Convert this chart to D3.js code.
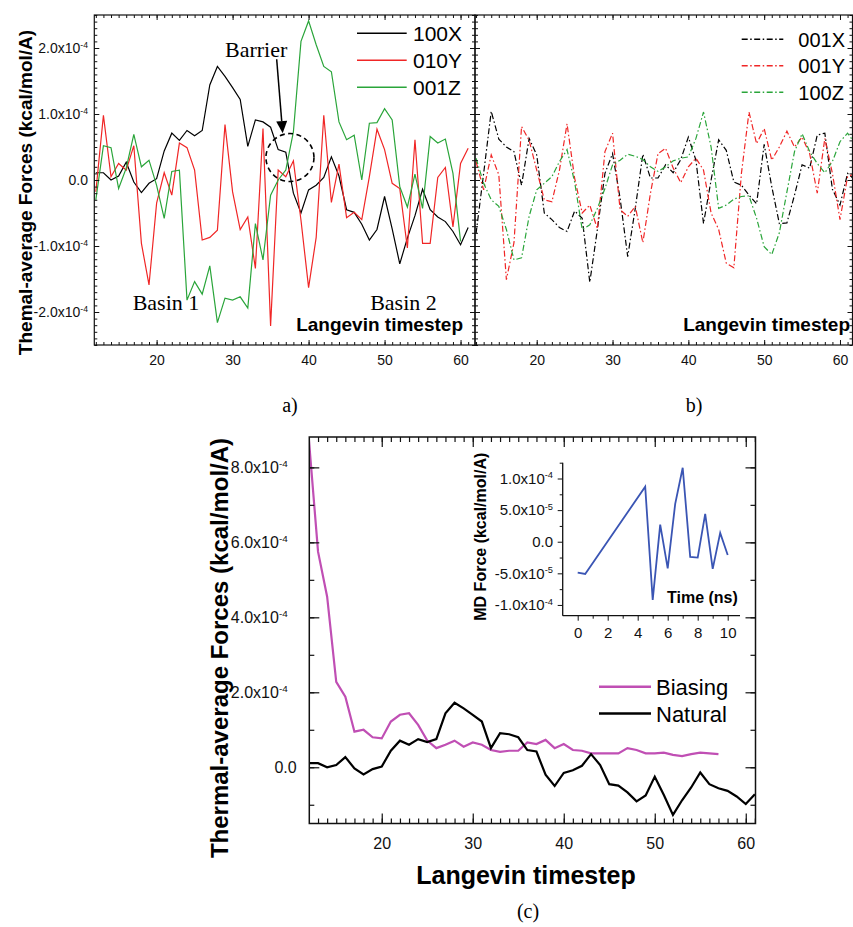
<!DOCTYPE html>
<html>
<head>
<meta charset="utf-8">
<script src="https://cdn.jsdelivr.net/npm/d3@7"></script>
<style>
  body { margin: 0; background: #fff; }
</style>
</head>
<body>
<script>
// ---- data (forces in units of 1e-4 kcal/mol/A, inset in 1e-5) ----
const stepsA = d3.range(12, 62);          // 12..61
const stepsGreenA = d3.range(12, 61);     // 12..60
const stepsB = d3.range(12, 63);          // 12..62
const stepsBias = d3.range(12, 58);       // 12..57

const force100X = [0.11, 0.11, 0.00, 0.06, 0.27, -0.03, -0.19, -0.05, 0.02, 0.44,
  0.71, 0.60, 0.75, 0.67, 0.75, 1.44, 1.72, 1.57, 1.40, 1.22,
  0.51, 0.91, 0.88, 0.80, 0.46, 0.42, -0.20, -0.50, -0.15, -0.08,
  0.04, 0.35, 0.06, -0.45, -0.49, -0.67, -0.91, -0.75, -0.25, -0.74,
  -1.27, -0.88, -0.54, -0.14, -0.45, -0.56, -0.63, -0.78, -0.98, -0.72];
const force010Y = [-0.18, 0.98, 0.05, 0.25, 0.15, 0.52, -0.96, -1.59, -0.35, 0.11,
  -0.23, 0.56, 0.49, 0.15, -0.91, -0.87, -0.76, 0.84, -0.18, -0.75,
  -0.56, -1.34, 0.78, -2.21, 0.15, 0.05, 0.29, -0.61, -1.63, -0.87,
  0.98, -0.34, 0.24, -0.57, -0.49, -0.60, 0.05, 0.77, 0.46, -0.05,
  -0.13, -1.03, 0.61, -0.96, -0.96, 0.04, 0.19, -0.71, 0.25, 0.48];
const force001Z = [-0.30, 0.52, 0.49, -0.13, 0.18, 0.69, 0.20, 0.30, -0.08, -0.58,
  0.13, 0.15, -1.82, -1.54, -1.73, -1.30, -2.16, -1.79, -1.82, -1.77,
  -1.94, -0.66, -1.21, -0.23, 0.00, 0.15, 0.73, 2.10, 2.41, 2.05,
  1.72, 1.64, 0.88, 0.61, 0.68, 0.00, 0.86, 0.87, 1.08, 0.91,
  -0.10, -0.41, 0.09, -0.43, 0.66, 0.56, 0.62, 0.10, -0.93];

const force001X = [-0.81, 0.10, 1.04, 0.62, 0.50, 0.43, -0.08, 0.63, 0.38, -0.50,
  -0.60, -0.72, -0.78, -0.47, -0.58, -1.55, -0.75, 0.10, 0.40, -0.28,
  -1.16, -0.43, 0.39, 0.03, 0.03, 0.23, 0.11, 0.31, 0.65, 0.30,
  -0.66, 0.00, 0.61, 0.45, -0.03, -0.08, -0.23, -0.36, 0.54, -0.10,
  -0.66, -0.65, -0.23, 0.23, 0.18, 0.68, 0.71, -0.14, -0.38, 0.10, 0.00];
const force001Y = [0.28, -0.15, 0.38, 0.08, -1.51, -0.95, 0.81, 0.60, 0.15, -0.30,
  -0.33, 0.15, 0.85, 0.03, -0.50, -0.38, -0.74, 0.43, 0.71, -0.45,
  -0.55, -0.40, -0.95, -0.20, 0.40, 0.48, 0.18, -0.04, 0.20, 0.33,
  0.15, -0.50, -0.75, -1.26, -1.33, 0.10, 1.03, 0.55, 0.78, 0.30,
  0.50, 0.74, 0.50, 0.65, 0.40, -0.20, 0.63, 0.10, -0.60, 0.05, 0.10];
const force100Z = [0.33, -0.05, -0.30, -0.40, -0.75, -1.21, -1.18, -0.55, -0.15, -0.05,
  0.05, 0.28, 0.46, -0.03, -0.75, -0.68, -0.43, -0.13, 0.23, 0.30,
  0.39, 0.36, 0.31, 0.20, 0.13, 0.20, 0.29, 0.33, 0.35, 0.63,
  1.03, 0.50, -0.43, -0.38, -0.29, -0.25, -0.24, -0.58, -1.01, -1.13,
  -0.80, -0.18, 0.43, 0.70, 0.43, 0.25, 0.11, 0.28, 0.58, 0.71, 0.55];

const biasing = [8.73, 5.75, 4.55, 2.28, 1.88, 0.95, 1.00, 0.80, 0.77, 1.22,
  1.40, 1.44, 1.13, 0.71, 0.51, 0.60, 0.71, 0.55, 0.66, 0.60,
  0.46, 0.41, 0.44, 0.44, 0.66, 0.62, 0.73, 0.51, 0.62, 0.46,
  0.44, 0.37, 0.37, 0.37, 0.37, 0.51, 0.46, 0.37, 0.37, 0.39,
  0.33, 0.30, 0.35, 0.39, 0.37, 0.35];
const natural = force100X; // same trajectory as 100X in panel a

const mdTime = [0, 0.5, 4.5, 5, 5.5, 6, 6.5, 7, 7.5, 8, 8.5, 9, 9.5, 10];
const mdForce = [-4.9, -5.1, 8.7, -9.2, 2.7, -4.2, 6.0, 11.7, -2.4, -2.5, 4.4, -4.3, 1.4, -2.1];

const legendA = ['100X', '010Y', '001Z'];
const legendB = ['001X', '001Y', '100Z'];
const legendC = ['Biasing', 'Natural'];
const xMajorAB = [20, 30, 40, 50, 60];
const yMajorAB = [-2, -1, 0, 1, 2];
const yMajorC = [0, 2, 4, 6, 8];
const xMajorInset = [0, 2, 4, 6, 8, 10];
const yMajorInset = [-10, -5, 0, 5, 10];

// ---- helpers ----
const sans = '"Liberation Sans", Arial, sans-serif';
const serif = '"Liberation Serif", "Times New Roman", serif';
const svg = d3.select('body').append('svg').attr('width', 853).attr('height', 927);
svg.append('rect').attr('width', 853).attr('height', 927).attr('fill', '#fff');

function expLabel(text, v, unit) {
  text.text(null);
  const val = v * unit;
  if (Math.abs(v) < 1e-9) { text.append('tspan').text('0.0'); return; }
  const e = Math.floor(Math.log10(Math.abs(val)) + 1e-9);
  const m = val / Math.pow(10, e);
  text.append('tspan').text(m.toFixed(1) + 'x10');
  text.append('tspan').attr('dy', '-0.6em').attr('font-size', '0.62em').text(e);
}

function axis(orient, scale, pos, majors, minors, cfg, labelled) {
  const make = { bottom: d3.axisBottom, top: d3.axisTop, left: d3.axisLeft, right: d3.axisRight }[orient];
  const sgn = cfg.inward ? -1 : 1;
  const horiz = orient === 'bottom' || orient === 'top';
  const tr = horiz ? `translate(0,${pos})` : `translate(${pos},0)`;
  const gMin = svg.append('g').attr('transform', tr)
    .call(make(scale).tickValues(minors).tickSize(sgn * cfg.minLen).tickSizeOuter(0).tickFormat(() => ''));
  const gMaj = svg.append('g').attr('transform', tr)
    .call(make(scale).tickValues(majors).tickSize(sgn * cfg.majLen).tickSizeOuter(0)
      .tickPadding(labelled ? (horiz ? cfg.padX : cfg.padY) : 0)
      .tickFormat(labelled ? (d => d) : () => ''));
  [gMin, gMaj].forEach(g => {
    g.select('.domain').remove();
    g.selectAll('line').attr('stroke', '#111').attr('stroke-width', cfg.sw);
  });
  gMaj.attr('font-family', sans).attr('font-size', horiz ? cfg.fsX : cfg.fsY);
  gMaj.selectAll('.tick text').attr('fill', '#111');
  if (labelled && !horiz) {
    gMaj.selectAll('.tick text').each(function (d) {
      const t = d3.select(this);
      expLabel(t, d, cfg.unit);
      if (cfg.expShift && Math.abs(d) > 1e-9) t.attr('x', +t.attr('x') - cfg.expShift);
    });
  }
}

function clip(id, x, y) {
  const [x0, x1] = x.range(), [y0, y1] = y.range();
  svg.append('clipPath').attr('id', id).append('rect')
    .attr('x', x0).attr('y', y1).attr('width', x1 - x0).attr('height', y0 - y1);
  return `url(#${id})`;
}

function frameRect(x, y, sw) {
  const [x0, x1] = x.range(), [y0, y1] = y.range();
  svg.append('rect').attr('x', x0).attr('y', y1).attr('width', x1 - x0).attr('height', y0 - y1)
    .attr('fill', 'none').attr('stroke', '#111').attr('stroke-width', sw);
}

function series(xs, ys, x, y, color, sw, dash, clipUrl) {
  const line = d3.line().x((d, i) => x(xs[i])).y(d => y(d));
  svg.append('path').datum(ys).attr('d', line)
    .attr('fill', 'none').attr('stroke', color).attr('stroke-width', sw)
    .attr('stroke-linejoin', 'miter').attr('stroke-dasharray', dash || null)
    .attr('clip-path', clipUrl);
}

const red = '#f02626', green = '#2aa53a', black = '#000';

// ---- panel a ----
const xA = d3.scaleLinear().domain([11.8, 61.9]).range([94.3, 475]);
const yA = d3.scaleLinear().domain([-2.5, 2.5]).range([345, 15]);
const cfgAB = { inward: true, majLen: 5, minLen: 3, sw: 1, padX: 10, padY: 6.3, fsX: 14, fsY: 14, unit: 1e-4 };
const minorX = d3.range(12, 63);
const minorY = d3.range(-25, 26).map(i => i / 10);

const clipA = clip('clipA', xA, yA);
series(stepsA, force100X, xA, yA, black, 1.2, null, clipA);
series(stepsA, force010Y, xA, yA, red, 1.2, null, clipA);
series(stepsGreenA, force001Z, xA, yA, green, 1.2, null, clipA);
axis('bottom', xA, 345, xMajorAB, minorX, cfgAB, true);
axis('top', xA, 15, xMajorAB, minorX, cfgAB, false);
axis('left', yA, 94.3, yMajorAB, minorY, cfgAB, true);
axis('right', yA, 475, yMajorAB, minorY, cfgAB, false);
frameRect(xA, yA, 1.2);

svg.append('text').attr('transform', 'translate(25,192.5) rotate(-90)')
  .attr('text-anchor', 'middle').attr('dy', '0.35em')
  .attr('font-family', sans).attr('font-weight', 'bold').attr('font-size', 19)
  .text('Themal-average Forces (kcal/mol/A)');
svg.append('text').attr('x', 463).attr('y', 331).attr('text-anchor', 'end')
  .attr('font-family', sans).attr('font-weight', 'bold').attr('font-size', 19)
  .text('Langevin timestep');

[black, red, green].forEach((c, i) => {
  const ly = 33.3 + i * 27;
  svg.append('line').attr('x1', 357).attr('x2', 406.7).attr('y1', ly).attr('y2', ly)
    .attr('stroke', c).attr('stroke-width', 1.4);
  svg.append('text').attr('x', 413).attr('y', ly + 7.6)
    .attr('font-family', sans).attr('font-size', 21).text(legendA[i]);
});

// annotations (placed in data coordinates)
svg.append('text').attr('x', xA(29.0)).attr('y', yA(1.86))
  .attr('font-family', serif).attr('font-size', 22).text('Barrier');
{
  const x1 = xA(35.8), y1 = yA(1.83), x2 = xA(36.59), y2 = yA(0.71);
  const len = Math.hypot(x2 - x1, y2 - y1), ux = (x2 - x1) / len, uy = (y2 - y1) / len;
  const bx = x2 - 12 * ux, by = y2 - 12 * uy;
  svg.append('line').attr('x1', x1).attr('y1', y1).attr('x2', bx).attr('y2', by)
    .attr('stroke', '#000').attr('stroke-width', 1.5);
  svg.append('polygon')
    .attr('points', [[x2, y2], [bx - 5.5 * uy, by + 5.5 * ux], [bx + 5.5 * uy, by - 5.5 * ux]].map(p => p.join(',')).join(' '))
    .attr('fill', '#000');
}
svg.append('circle').attr('cx', xA(37.55)).attr('cy', yA(0.34)).attr('r', 24)
  .attr('fill', 'none').attr('stroke', '#000').attr('stroke-width', 1.6).attr('stroke-dasharray', '5,3.5');
svg.append('text').attr('x', xA(16.85)).attr('y', yA(-1.97))
  .attr('font-family', serif).attr('font-size', 22).text('Basin 1');
svg.append('text').attr('x', xA(48.1)).attr('y', yA(-1.97))
  .attr('font-family', serif).attr('font-size', 22).text('Basin 2');
svg.append('text').attr('x', 290).attr('y', 412).attr('text-anchor', 'middle')
  .attr('font-family', serif).attr('font-size', 20).text('a)');

// ---- panel b ----
const xB = d3.scaleLinear().domain([11.86, 61.65]).range([475, 852.5]);
const yB = yA.copy();
const clipB = clip('clipB', xB, yB);
const dashB = '6,2.5,1.5,2.5';
series(stepsB, force001X, xB, yB, black, 1.2, dashB, clipB);
series(stepsB, force001Y, xB, yB, red, 1.2, dashB, clipB);
series(stepsB, force100Z, xB, yB, green, 1.2, dashB, clipB);
axis('bottom', xB, 345, xMajorAB, minorX, cfgAB, true);
axis('top', xB, 15, xMajorAB, minorX, cfgAB, false);
axis('left', yB, 475, yMajorAB, minorY, cfgAB, false);
axis('right', yB, 852.5, yMajorAB, minorY, cfgAB, false);
frameRect(xB, yB, 1.2);

svg.append('text').attr('x', 850).attr('y', 331).attr('text-anchor', 'end')
  .attr('font-family', sans).attr('font-weight', 'bold').attr('font-size', 19)
  .text('Langevin timestep');
[black, red, green].forEach((c, i) => {
  const ly = 39.3 + i * 26.5;
  svg.append('line').attr('x1', 741.7).attr('x2', 783.3).attr('y1', ly).attr('y2', ly)
    .attr('stroke', c).attr('stroke-width', 1.4).attr('stroke-dasharray', dashB);
  svg.append('text').attr('x', 798.3).attr('y', ly + 7.3)
    .attr('font-family', sans).attr('font-size', 20).text(legendB[i]);
});
svg.append('text').attr('x', 694).attr('y', 412).attr('text-anchor', 'middle')
  .attr('font-family', serif).attr('font-size', 20).text('b)');

// ---- panel c ----
const xC = d3.scaleLinear().domain([12.04, 61.07]).range([309.3, 755.5]);
const yC = d3.scaleLinear().domain([-1.5, 8.81]).range([823.5, 437]);
const cfgC = { inward: true, majLen: 10, minLen: 5, sw: 1.2, padX: 14, padY: 12.6, fsX: 16, fsY: 16, unit: 1e-4, expShift: 9 };
const clipC = clip('clipC', xC, yC);
series(stepsBias, biasing, xC, yC, '#c04fb4', 2.2, null, clipC);
series(stepsA, natural, xC, yC, black, 2.2, null, clipC);
axis('bottom', xC, 823.5, xMajorAB, d3.range(13, 62), cfgC, true);
axis('top', xC, 437, xMajorAB, d3.range(13, 62), cfgC, false);
axis('left', yC, 309.3, yMajorC, d3.range(-1, 9), cfgC, true);
axis('right', yC, 755.5, yMajorC, d3.range(-1, 9), cfgC, false);
frameRect(xC, yC, 1.5);

svg.append('text').attr('transform', 'translate(220,648) rotate(-90)')
  .attr('text-anchor', 'middle').attr('dy', '0.35em')
  .attr('font-family', sans).attr('font-weight', 'bold').attr('font-size', 24)
  .text('Thermal-average Forces (kcal/mol/A)');
svg.append('text').attr('x', 526).attr('y', 884).attr('text-anchor', 'middle')
  .attr('font-family', sans).attr('font-weight', 'bold').attr('font-size', 25)
  .text('Langevin timestep');
['#c04fb4', black].forEach((c, i) => {
  const ly = 686.7 + i * 26.8;
  svg.append('line').attr('x1', 599).attr('x2', 651).attr('y1', ly).attr('y2', ly)
    .attr('stroke', c).attr('stroke-width', 2.4);
  svg.append('text').attr('x', 656).attr('y', ly + 8)
    .attr('font-family', sans).attr('font-size', 22).text(legendC[i]);
});
svg.append('text').attr('x', 528).attr('y', 918).attr('text-anchor', 'middle')
  .attr('font-family', serif).attr('font-size', 20).text('(c)');

// ---- inset ----
const xI = d3.scaleLinear().domain([-1, 10.82]).range([562.7, 740]);
const yI = d3.scaleLinear().domain([-11.7, 12.5]).range([615.7, 462.7]);
const cfgI = { inward: false, majLen: 5, minLen: 3, sw: 1, padX: 6.6, padY: 4.7, fsX: 15, fsY: 15, unit: 1e-5 };
series(mdTime, mdForce, xI, yI, '#3a55b4', 1.8, null, null);
axis('bottom', xI, 615.7, xMajorInset, [1, 3, 5, 7, 9], cfgI, true);
axis('left', yI, 562.7, yMajorInset, [-7.5, -2.5, 2.5, 7.5, 12.5], cfgI, true);
svg.append('line').attr('x1', 562.7).attr('x2', 740).attr('y1', 615.7).attr('y2', 615.7)
  .attr('stroke', '#111').attr('stroke-width', 1.3);
svg.append('line').attr('x1', 562.7).attr('x2', 562.7).attr('y1', 462.7).attr('y2', 615.7)
  .attr('stroke', '#111').attr('stroke-width', 1.3);
svg.append('text').attr('transform', 'translate(480,536.7) rotate(-90)')
  .attr('text-anchor', 'middle').attr('dy', '0.35em')
  .attr('font-family', sans).attr('font-weight', 'bold').attr('font-size', 16)
  .text('MD Force (kcal/mol/A)');
svg.append('text').attr('x', 667).attr('y', 603)
  .attr('font-family', sans).attr('font-weight', 'bold').attr('font-size', 16)
  .text('Time (ns)');
</script>
</body>
</html>
